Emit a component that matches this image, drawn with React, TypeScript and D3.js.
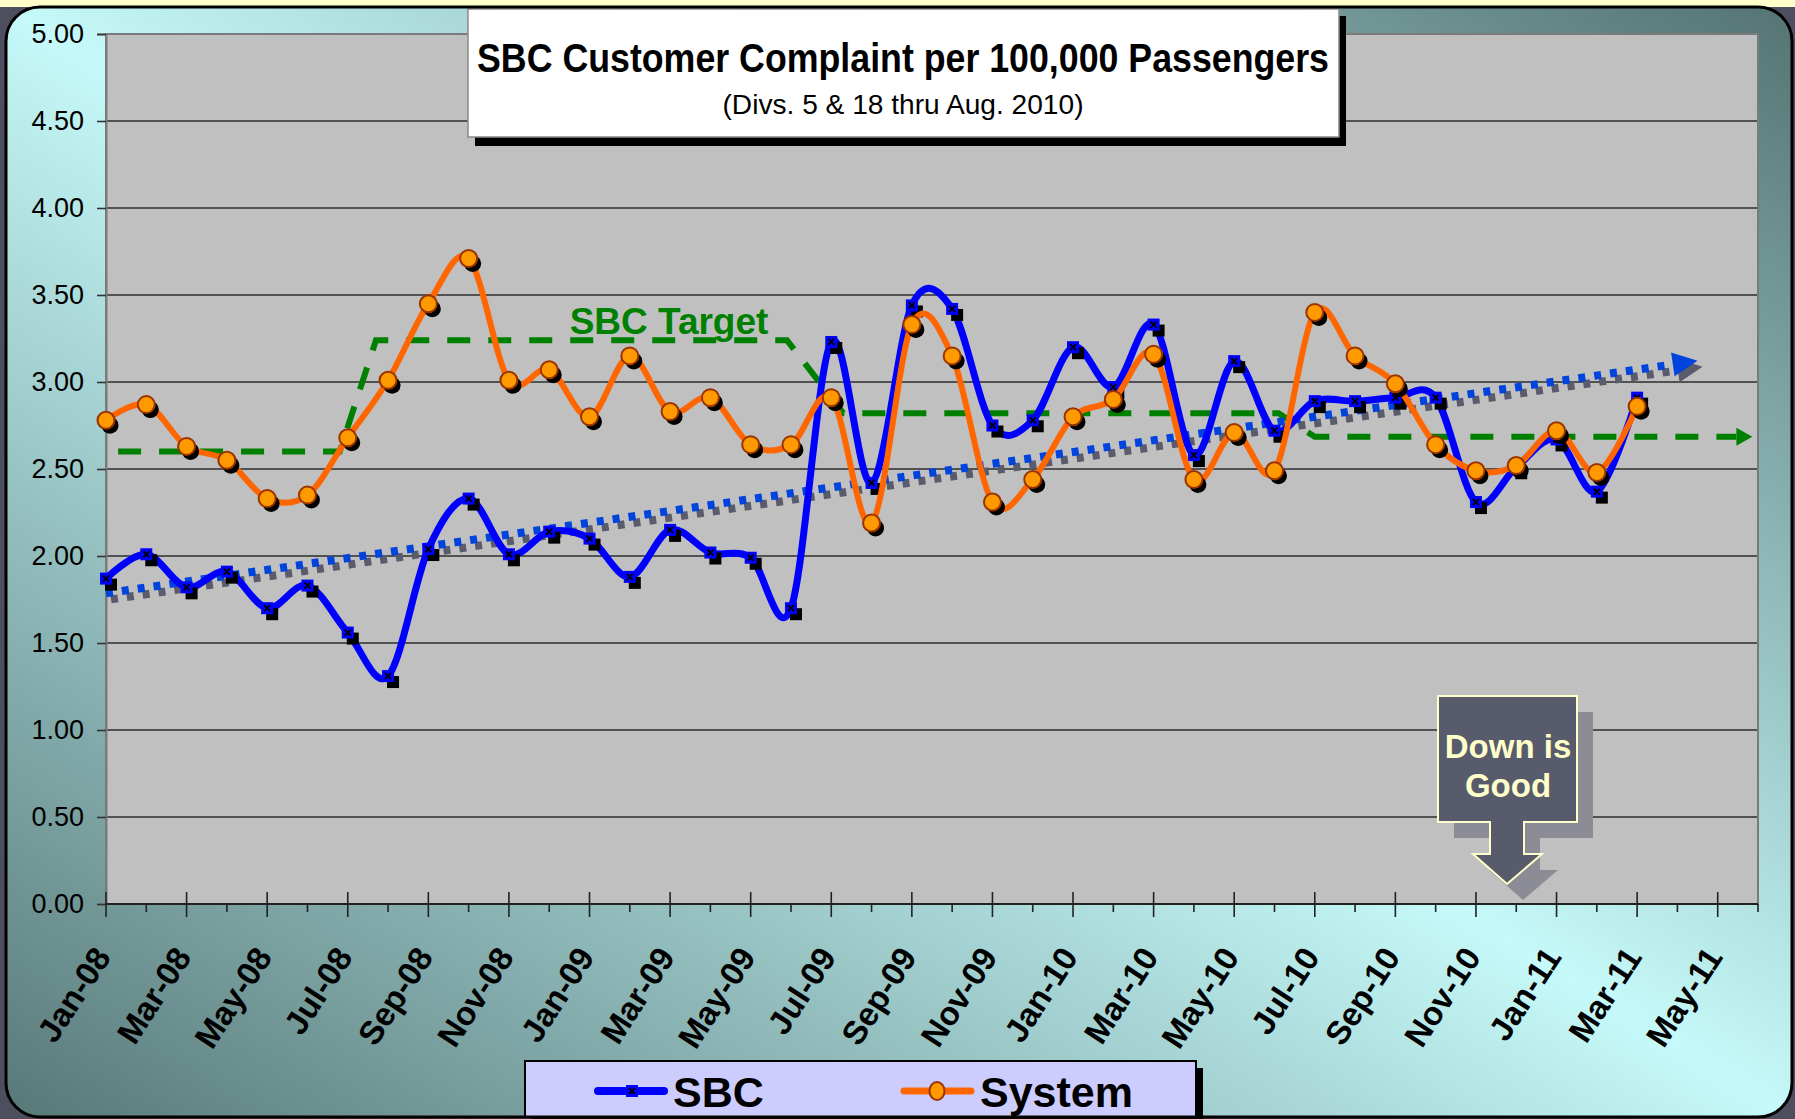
import React, { useEffect, useRef } from 'react';
import * as d3 from 'd3';

// category axis: one slot per month, Jan-08 = 0
const tickLabels = [
    'Jan-08', 'Mar-08', 'May-08', 'Jul-08', 'Sep-08', 'Nov-08',
    'Jan-09', 'Mar-09', 'May-09', 'Jul-09', 'Sep-09', 'Nov-09',
    'Jan-10', 'Mar-10', 'May-10', 'Jul-10', 'Sep-10', 'Nov-10',
    'Jan-11', 'Mar-11', 'May-11',
];

// Jan-08 .. Mar-11, monthly
const sbcValues = [
    1.87, 2.01, 1.82, 1.91, 1.70, 1.83, 1.56, 1.31, 2.04, 2.33, 2.01, 2.14,
    2.10, 1.88, 2.15, 2.02, 1.99, 1.70, 3.23, 2.42, 3.44, 3.42, 2.75, 2.78,
    3.20, 2.97, 3.33, 2.58, 3.12, 2.72, 2.89, 2.89, 2.91, 2.91, 2.31, 2.51,
    2.67, 2.37, 2.91,
];

const systemValues = [
    2.78, 2.87, 2.63, 2.55, 2.33, 2.35, 2.68, 3.01, 3.45, 3.71, 3.01, 3.07,
    2.80, 3.15, 2.83, 2.91, 2.64, 2.64, 2.91, 2.19, 3.33, 3.15, 2.31, 2.44,
    2.80, 2.90, 3.16, 2.44, 2.71, 2.49, 3.40, 3.15, 2.99, 2.64, 2.49, 2.52,
    2.72, 2.48, 2.86,
];

// SBC target step line (month position, value); last point is the arrow tip
const targetMonths = [0.3, 5.8, 6.7, 16.9, 18.3, 29.1, 30.0, 40.86];
const targetValues = [2.6, 2.6, 3.24, 3.24, 2.82, 2.82, 2.685, 2.685];

const yTicks = [0, 0.5, 1, 1.5, 2, 2.5, 3, 3.5, 4, 4.5, 5];

const trendEnd = 39.5; // forecast end of the linear trend

const W = 1795;
const H = 1119;
const FONT = "'Liberation Sans', Arial, Helvetica, sans-serif";

export default function App() {
    const ref = useRef<SVGSVGElement>(null);

    useEffect(() => {
        drawChart();
        // eslint-disable-next-line
    }, []);

    function drawChart() {
        const svg = d3.select(ref.current);
        svg.selectAll('*').remove();

        const plot = { left: 106, right: 1758, top: 34, bottom: 904 };

        const x = d3.scaleLinear().domain([0, 41]).range([plot.left, plot.right]);
        const y = d3.scaleLinear().domain([0, 5]).range([plot.bottom, plot.top]);

        const defs = svg.append('defs');
        const grad = defs
            .append('linearGradient')
            .attr('id', 'bg')
            .attr('x1', 1)
            .attr('y1', 0)
            .attr('x2', 0)
            .attr('y2', 1);
        grad.append('stop').attr('offset', 0).attr('stop-color', '#557373');
        grad.append('stop').attr('offset', 0.5).attr('stop-color', '#c6f9f9');
        grad.append('stop').attr('offset', 1).attr('stop-color', '#587878');

        // page behind the slide frame
        svg.append('rect').attr('width', W).attr('height', H).attr('fill', '#4d4f5e');
        svg.append('rect').attr('width', W).attr('height', 7).attr('fill', '#ffffcc');

        const frame = { x: 6, y: 7, w: 1786, h: 1110, r: 34 };
        svg.append('rect')
            .attr('x', frame.x)
            .attr('y', frame.y)
            .attr('width', frame.w)
            .attr('height', frame.h)
            .attr('rx', frame.r)
            .attr('fill', 'url(#bg)');

        // plot area
        svg.append('rect')
            .attr('x', plot.left)
            .attr('y', plot.top)
            .attr('width', plot.right - plot.left)
            .attr('height', plot.bottom - plot.top)
            .attr('fill', '#c0c0c0');

        svg.append('g')
            .selectAll('line')
            .data(yTicks.filter((d) => d > 0 && d < 5))
            .enter()
            .append('line')
            .attr('x1', plot.left)
            .attr('x2', plot.right)
            .attr('y1', (d) => y(d))
            .attr('y2', (d) => y(d))
            .attr('stroke', '#2e2e2e')
            .attr('stroke-width', 1.6);

        svg.append('rect')
            .attr('x', plot.left)
            .attr('y', plot.top)
            .attr('width', plot.right - plot.left)
            .attr('height', plot.bottom - plot.top)
            .attr('fill', 'none')
            .attr('stroke', '#7a7a7a')
            .attr('stroke-width', 2);

        // Y axis
        const yAxis = svg
            .append('g')
            .attr('transform', `translate(${plot.left},0)`)
            .call(d3.axisLeft(y).tickValues(yTicks).tickFormat(d3.format('.2f')).tickSize(9).tickPadding(13));
        yAxis.select('.domain').attr('stroke', '#7a7a7a').attr('stroke-width', 2);
        yAxis.selectAll('.tick line').attr('stroke', '#333').attr('stroke-width', 1.6);
        yAxis.selectAll('.tick text')
            .attr('font-family', FONT)
            .attr('font-size', 27)
            .attr('fill', '#000');

        // X axis
        svg.append('line')
            .attr('x1', plot.left)
            .attr('x2', plot.right)
            .attr('y1', plot.bottom)
            .attr('y2', plot.bottom)
            .attr('stroke', '#222')
            .attr('stroke-width', 2);

        const majors = d3.range(0, 41, 2);
        const minors = d3.range(1, 42, 2);
        svg.append('g')
            .selectAll('line')
            .data(majors)
            .enter()
            .append('line')
            .attr('x1', (d) => x(d))
            .attr('x2', (d) => x(d))
            .attr('y1', plot.bottom - 12)
            .attr('y2', plot.bottom + 13)
            .attr('stroke', '#222')
            .attr('stroke-width', 1.6);
        svg.append('g')
            .selectAll('line')
            .data(minors)
            .enter()
            .append('line')
            .attr('x1', (d) => x(d))
            .attr('x2', (d) => x(d))
            .attr('y1', plot.bottom)
            .attr('y2', plot.bottom + 8)
            .attr('stroke', '#222')
            .attr('stroke-width', 1.6);

        svg.append('g')
            .selectAll('text')
            .data(tickLabels)
            .enter()
            .append('text')
            .attr('transform', (d, i) => `translate(${x(i * 2) + 6},${plot.bottom + 53}) rotate(-57)`)
            .attr('text-anchor', 'end')
            .attr('font-family', FONT)
            .attr('font-weight', 'bold')
            .attr('font-size', 33)
            .attr('fill', '#000')
            .text((d) => d);

        // SBC target (green dashed, with arrow)
        const tgt = targetMonths.map((m, i) => [x(m), y(targetValues[i])] as [number, number]);
        const tipT = tgt[tgt.length - 1];
        const baseT: [number, number] = [tipT[0] - 16, tipT[1]];
        const tgtLine = tgt.slice(0, -1).concat([baseT]);
        svg.append('path')
            .attr('d', d3.line()(tgtLine))
            .attr('fill', 'none')
            .attr('stroke', '#008000')
            .attr('stroke-width', 6)
            .attr('stroke-dasharray', '23 18');
        svg.append('path')
            .attr('d', `M${tipT[0]},${tipT[1]} L${baseT[0]},${baseT[1] - 9} L${baseT[0]},${baseT[1] + 9} Z`)
            .attr('fill', '#008000');

        // linear trend of SBC
        const mx = d3.mean(sbcValues, (d, i) => i) as number;
        const my = d3.mean(sbcValues) as number;
        const sxy = d3.sum(sbcValues, (d, i) => (i - mx) * (d - my));
        const sxx = d3.sum(sbcValues, (d, i) => (i - mx) * (i - mx));
        const slope = sxy / sxx;
        const icpt = my - slope * mx;
        const p0: [number, number] = [x(0), y(icpt)];
        const p1: [number, number] = [x(trendEnd), y(icpt + slope * trendEnd)];
        const len = Math.hypot(p1[0] - p0[0], p1[1] - p0[1]);
        const ux = (p1[0] - p0[0]) / len;
        const uy = (p1[1] - p0[1]) / len;
        const aL = 25;
        const aW = 12;
        const b: [number, number] = [p1[0] - ux * aL, p1[1] - uy * aL];
        const head = `M${p1[0]},${p1[1]} L${b[0] - uy * aW},${b[1] + ux * aW} L${b[0] + uy * aW},${b[1] - ux * aW} Z`;

        [
            { color: '#5a5c6c', dx: 5, dy: 6 },
            { color: '#0044dd', dx: 0, dy: 0 },
        ].forEach((s) => {
            const g = svg.append('g').attr('transform', `translate(${s.dx},${s.dy})`);
            g.append('path')
                .attr('d', d3.line()([p0, b]))
                .attr('stroke', s.color)
                .attr('stroke-width', 8)
                .attr('stroke-dasharray', '7 9')
                .attr('fill', 'none');
            g.append('path').attr('d', head).attr('fill', s.color);
        });

        // SBC series
        const smooth = d3
            .line<number>()
            .x((d, i) => x(i))
            .y((d) => y(d))
            .curve(d3.curveCardinal.tension(0));

        svg.append('path')
            .attr('d', smooth(sbcValues))
            .attr('fill', 'none')
            .attr('stroke', '#0000ff')
            .attr('stroke-width', 7)
            .attr('stroke-linejoin', 'round');

        const sq = 12;
        const sbcPts = svg.append('g').selectAll('g').data(sbcValues).enter().append('g')
            .attr('transform', (d, i) => `translate(${x(i)},${y(d)})`);
        sbcPts.append('rect')
            .attr('x', -sq / 2 + 5)
            .attr('y', -sq / 2 + 6)
            .attr('width', sq)
            .attr('height', sq)
            .attr('fill', '#000');
        sbcPts.append('rect')
            .attr('x', -sq / 2)
            .attr('y', -sq / 2)
            .attr('width', sq)
            .attr('height', sq)
            .attr('fill', '#0000ff');
        sbcPts.append('path')
            .attr('d', 'M-3,-3L3,3M3,-3L-3,3')
            .attr('stroke', '#000')
            .attr('stroke-width', 1.8);

        // System series
        svg.append('path')
            .attr('d', smooth(systemValues))
            .attr('fill', 'none')
            .attr('stroke', '#ff6600')
            .attr('stroke-width', 6)
            .attr('stroke-linejoin', 'round');

        const sysPts = svg.append('g').selectAll('g').data(systemValues).enter().append('g')
            .attr('transform', (d, i) => `translate(${x(i)},${y(d)})`);
        sysPts.append('circle').attr('cx', 4).attr('cy', 5).attr('r', 8.5).attr('fill', '#000');
        sysPts.append('circle')
            .attr('r', 8.5)
            .attr('fill', '#ff9900')
            .attr('stroke', '#993300')
            .attr('stroke-width', 2);

        // "SBC Target" label
        svg.append('text')
            .attr('x', 669)
            .attr('y', 334)
            .attr('text-anchor', 'middle')
            .attr('font-family', FONT)
            .attr('font-weight', 'bold')
            .attr('font-size', 37)
            .attr('fill', '#008000')
            .text('SBC Target');

        // title box
        svg.append('rect').attr('x', 475).attr('y', 16).attr('width', 871).attr('height', 130).attr('fill', '#000');
        svg.append('rect')
            .attr('x', 468)
            .attr('y', 9)
            .attr('width', 871)
            .attr('height', 128)
            .attr('fill', '#fff')
            .attr('stroke', '#8a8a8a')
            .attr('stroke-width', 1.5);
        svg.append('text')
            .attr('x', 903)
            .attr('y', 72)
            .attr('text-anchor', 'middle')
            .attr('font-family', "'Liberation Sans Narrow', " + FONT)
            .attr('font-weight', 'bold')
            .attr('font-size', 40)
            .attr('textLength', 852)
            .attr('lengthAdjust', 'spacingAndGlyphs')
            .text('SBC Customer Complaint per 100,000 Passengers');
        svg.append('text')
            .attr('x', 903)
            .attr('y', 114)
            .attr('text-anchor', 'middle')
            .attr('font-family', "'Liberation Sans Narrow', " + FONT)
            .attr('font-size', 28)
            .attr('textLength', 361)
            .attr('lengthAdjust', 'spacingAndGlyphs')
            .text('(Divs. 5 & 18 thru Aug. 2010)');

        // "Down is Good" callout
        const callout = 'M1438,696 H1577 V822 H1524 V854 H1542 L1507,884 L1473,854 H1490 V822 H1438 Z';
        svg.append('path').attr('d', callout).attr('transform', 'translate(16,16)').attr('fill', '#8b8c96');
        svg.append('path')
            .attr('d', callout)
            .attr('fill', '#585b6b')
            .attr('stroke', '#ffffcc')
            .attr('stroke-width', 2);
        ['Down is', 'Good'].forEach((t, i) => {
            svg.append('text')
                .attr('x', 1508)
                .attr('y', 758 + i * 39)
                .attr('text-anchor', 'middle')
                .attr('font-family', FONT)
                .attr('font-weight', 'bold')
                .attr('font-size', 33)
                .attr('fill', '#ffffcc')
                .text(t);
        });

        // legend
        svg.append('rect').attr('x', 532).attr('y', 1068).attr('width', 671).attr('height', 56).attr('fill', '#000');
        svg.append('rect')
            .attr('x', 525)
            .attr('y', 1061)
            .attr('width', 671)
            .attr('height', 56)
            .attr('fill', '#ccccff')
            .attr('stroke', '#000')
            .attr('stroke-width', 2);

        const lg = svg.append('g');
        lg.append('line')
            .attr('x1', 598).attr('x2', 664).attr('y1', 1091).attr('y2', 1091)
            .attr('stroke', '#0000ff').attr('stroke-width', 8).attr('stroke-linecap', 'round');
        lg.append('rect').attr('x', 626).attr('y', 1085).attr('width', 12).attr('height', 12).attr('fill', '#0000ff');
        lg.append('path').attr('d', 'M629,1088L635,1094M635,1088L629,1094').attr('stroke', '#000').attr('stroke-width', 1.8);
        lg.append('text')
            .attr('x', 673).attr('y', 1107)
            .attr('font-family', FONT).attr('font-weight', 'bold').attr('font-size', 43)
            .text('SBC');

        lg.append('line')
            .attr('x1', 904).attr('x2', 971).attr('y1', 1091).attr('y2', 1091)
            .attr('stroke', '#ff6600').attr('stroke-width', 7).attr('stroke-linecap', 'round');
        lg.append('ellipse')
            .attr('cx', 937).attr('cy', 1091).attr('rx', 7.5).attr('ry', 9)
            .attr('fill', '#ff9900').attr('stroke', '#993300').attr('stroke-width', 2);
        lg.append('text')
            .attr('x', 980).attr('y', 1107)
            .attr('font-family', FONT).attr('font-weight', 'bold').attr('font-size', 43)
            .text('System');

        // frame outline on top
        svg.append('rect')
            .attr('x', frame.x)
            .attr('y', frame.y)
            .attr('width', frame.w)
            .attr('height', frame.h)
            .attr('rx', frame.r)
            .attr('fill', 'none')
            .attr('stroke', '#000')
            .attr('stroke-width', 3);
    }

    return (
        <svg
            ref={ref}
            width={W}
            height={H}
            style={{ position: 'absolute', left: 0, top: 0, display: 'block' }}
        />
    );
}
